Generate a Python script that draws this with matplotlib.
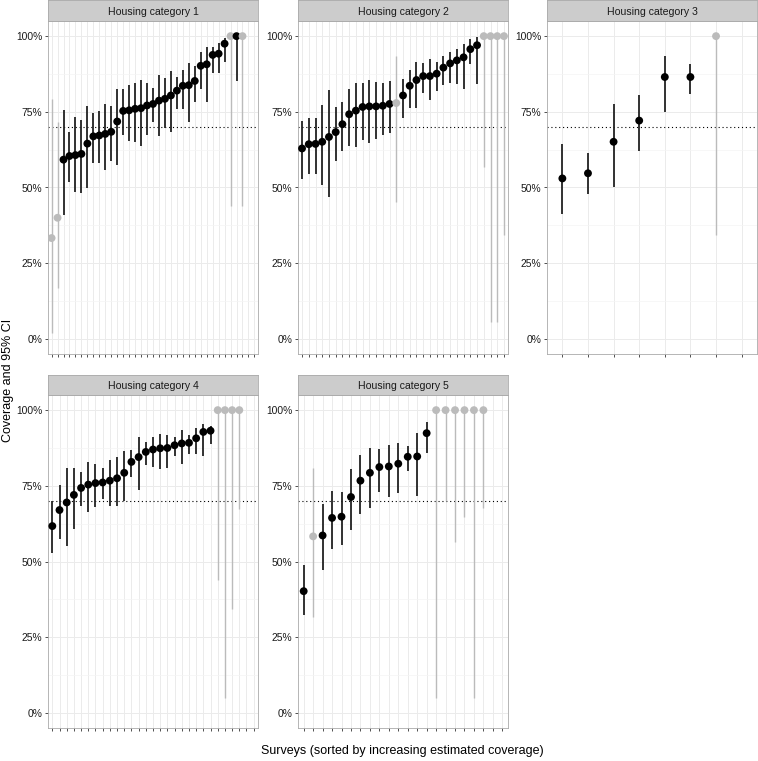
import matplotlib.pyplot as plt
import numpy as np

plt.rcParams['font.family'] = ['Liberation Sans', 'DejaVu Sans']

# Housing category 1 (35 survey slots)
est1 = [0.333, 0.400, 0.592, 0.604, 0.607, 0.611, 0.645, 0.669, 0.672, 0.677, 0.684, 0.718,
        0.753, 0.755, 0.760, 0.762, 0.771, 0.776, 0.787, 0.793, 0.804, 0.820, 0.836, 0.838,
        0.852, 0.902, 0.907, 0.938, 0.942, 0.975, 1.0, 1.0, 1.0]
lo1 = [0.019, 0.169, 0.408, 0.518, 0.485, 0.482, 0.498, 0.581, 0.581, 0.557, 0.586, 0.575,
       0.675, 0.654, 0.651, 0.636, 0.675, 0.717, 0.669, 0.698, 0.682, 0.760, 0.759, 0.717,
       0.781, 0.825, 0.784, 0.877, 0.879, 0.913, 0.439, 0.852, 0.439]
hi1 = [0.793, 0.717, 0.757, 0.683, 0.732, 0.724, 0.768, 0.746, 0.753, 0.777, 0.770, 0.827,
       0.827, 0.839, 0.845, 0.856, 0.845, 0.828, 0.871, 0.863, 0.886, 0.866, 0.888, 0.911,
       0.901, 0.946, 0.964, 0.965, 0.978, 0.995, 1.0, 1.0, 1.0]
grey1 = [1, 1] + [0] * 28 + [1, 0, 1]

# Housing category 2 (31 slots)
est2 = [0.629, 0.643, 0.644, 0.651, 0.667, 0.683, 0.709, 0.742, 0.754, 0.766, 0.768, 0.768,
        0.770, 0.776, 0.779, 0.804, 0.836, 0.855, 0.868, 0.868, 0.876, 0.896, 0.910, 0.920,
        0.930, 0.957, 0.970, 1.0, 1.0, 1.0, 1.0]
lo2 = [0.527, 0.544, 0.546, 0.509, 0.467, 0.586, 0.622, 0.637, 0.635, 0.658, 0.646, 0.659,
       0.674, 0.679, 0.453, 0.731, 0.764, 0.764, 0.811, 0.789, 0.820, 0.839, 0.846, 0.842,
       0.825, 0.907, 0.843, 0.568, 0.055, 0.055, 0.344]
hi2 = [0.721, 0.730, 0.729, 0.773, 0.821, 0.766, 0.784, 0.827, 0.844, 0.844, 0.855, 0.850,
       0.844, 0.852, 0.936, 0.860, 0.888, 0.914, 0.910, 0.923, 0.916, 0.934, 0.946, 0.958,
       0.973, 0.991, 0.998, 1.0, 1.0, 1.0, 1.0]
grey2 = [0] * 14 + [1] + [0] * 12 + [1, 1, 1, 1]

# Housing category 3 (8 slots)
est3 = [0.530, 0.547, 0.651, 0.721, 0.865, 0.865, 1.0]
lo3 = [0.413, 0.479, 0.501, 0.620, 0.748, 0.809, 0.343]
hi3 = [0.645, 0.614, 0.776, 0.805, 0.933, 0.908, 1.0]
grey3 = [0, 0, 0, 0, 0, 0, 1]

# Housing category 4 (29 slots)
est4 = [0.617, 0.670, 0.695, 0.720, 0.743, 0.754, 0.759, 0.761, 0.767, 0.775, 0.793, 0.829,
        0.845, 0.862, 0.870, 0.874, 0.875, 0.884, 0.890, 0.892, 0.907, 0.928, 0.932,
        1.0, 1.0, 1.0, 1.0]
lo4 = [0.527, 0.574, 0.552, 0.609, 0.684, 0.662, 0.681, 0.708, 0.684, 0.684, 0.699, 0.780,
       0.737, 0.818, 0.812, 0.804, 0.810, 0.849, 0.823, 0.855, 0.855, 0.850, 0.887,
       0.439, 0.050, 0.342, 0.675]
hi4 = [0.699, 0.752, 0.809, 0.809, 0.794, 0.829, 0.822, 0.809, 0.834, 0.846, 0.864, 0.867,
       0.912, 0.896, 0.910, 0.922, 0.919, 0.911, 0.933, 0.919, 0.940, 0.955, 0.947,
       1.0, 1.0, 1.0, 1.0]
grey4 = [0] * 23 + [1, 1, 1, 1]

# Housing category 5 (22 slots)
est5 = [0.402, 0.583, 0.586, 0.644, 0.648, 0.713, 0.767, 0.793, 0.812, 0.814, 0.823, 0.846,
        0.847, 0.924, 1.0, 1.0, 1.0, 1.0, 1.0, 1.0]
lo5 = [0.322, 0.318, 0.473, 0.541, 0.554, 0.605, 0.656, 0.678, 0.730, 0.712, 0.727, 0.800,
       0.718, 0.858, 0.050, 0.701, 0.565, 0.647, 0.050, 0.676]
hi5 = [0.487, 0.808, 0.690, 0.734, 0.731, 0.804, 0.851, 0.875, 0.872, 0.885, 0.893, 0.882,
       0.923, 0.961, 1.0, 1.0, 1.0, 1.0, 1.0, 1.0]
grey5 = [0, 1] + [0] * 12 + [1] * 6

panels = [
    ('Housing category 1', est1, lo1, hi1, grey1, 35),
    ('Housing category 2', est2, lo2, hi2, grey2, 31),
    ('Housing category 3', est3, lo3, hi3, grey3, 8),
    ('Housing category 4', est4, lo4, hi4, grey4, 29),
    ('Housing category 5', est5, lo5, hi5, grey5, 22),
]

W, H = 758, 761
fig = plt.figure(figsize=(W / 100, H / 100), dpi=100)

# panel boxes in pixels: left, right, strip top, panel top, panel bottom
lefts = [48, 298, 547]
rights = [258, 508, 757]
rows = [(0, 21, 354), (375, 395, 728)]

for i, (title, est, lo, hi, grey, nslots) in enumerate(panels):
    r, c = divmod(i, 3)
    x0, x1 = lefts[c], rights[c]
    st, pt, pb = rows[r]
    ax = fig.add_axes([x0 / W, 1 - pb / H, (x1 - x0) / W, (pb - pt) / H])
    sax = fig.add_axes([x0 / W, 1 - pt / H, (x1 - x0) / W, (pt - st) / H])
    sax.set_facecolor('#CCCCCC')
    sax.set_xticks([])
    sax.set_yticks([])
    for s in sax.spines.values():
        s.set_color('#AAAAAA')
        s.set_linewidth(0.6)
    sax.text(0.5, 0.45, title, ha='center', va='center', fontsize=7.6, color='#1A1A1A',
             transform=sax.transAxes)

    xs = np.arange(1, len(est) + 1)
    cols = ['#BBBBBB' if g else 'black' for g in grey]
    lcols = ['#BBBBBB' if g else '#222222' for g in grey]
    lws = [1.0 if g else 1.3 for g in grey]
    ax.vlines(xs, lo, hi, colors=lcols, linewidths=lws, zorder=3)
    ax.scatter(xs, est, s=32, c=cols, zorder=4, linewidths=0)
    ax.axhline(0.7, color='black', linestyle=(0, (1, 2.5)), linewidth=0.8, zorder=2)

    ax.set_xlim(0.4, nslots + 0.6)
    ax.set_ylim(-0.05, 1.05)
    ax.set_xticks(np.arange(1, nslots + 1))
    ax.set_xticklabels([])
    ax.set_yticks([0, 0.25, 0.5, 0.75, 1.0])
    ax.set_yticklabels(['0%', '25%', '50%', '75%', '100%'])
    ax.set_yticks([0.125, 0.375, 0.625, 0.875], minor=True)
    ax.tick_params(axis='both', which='major', length=2.5, width=0.6, color='#333333',
                   labelsize=7.4, labelcolor='#1A1A1A', pad=1.5)
    ax.tick_params(axis='y', which='minor', length=0)
    ax.grid(True, which='major', color='#EBEBEB', linewidth=0.7, zorder=0)
    ax.grid(True, which='minor', axis='y', color='#F4F4F4', linewidth=0.5, zorder=0)
    ax.set_axisbelow(True)
    for s in ax.spines.values():
        s.set_color('#AAAAAA')
        s.set_linewidth(0.6)

fig.text(8 / W, 0.5, 'Coverage and 95% CI', rotation=90, ha='center', va='center',
         fontsize=9)
fig.text(0.5 * (48 + 757) / W, 1 - 751 / H,
         'Surveys (sorted by increasing estimated coverage)', ha='center', va='center',
         fontsize=9)

fig.savefig('out.png', dpi=100)
